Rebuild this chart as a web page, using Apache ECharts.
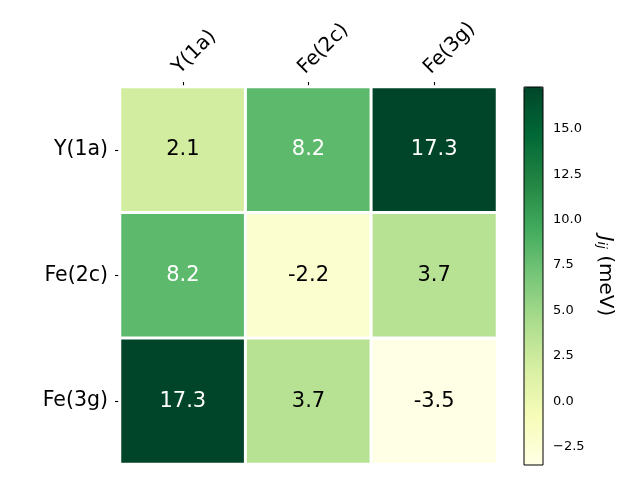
<!DOCTYPE html>
<html>
<head>
<meta charset="utf-8">
<script src="https://cdn.jsdelivr.net/npm/echarts@6/dist/echarts.min.js"></script>
<style>html,body{margin:0;padding:0;background:#fff}#c{width:640px;height:480px}</style>
</head>
<body>
<div id="c"></div>
<script>
const sites = ['Y(1a)', 'Fe(2c)', 'Fe(3g)'];
const rowY1a = [2.1, 8.2, 17.3];
const rowFe2c = [8.2, -2.2, 3.7];
const rowFe3g = [17.3, 3.7, -3.5];
const valueMin = -3.5;
const valueMax = 17.3;
const cbTicks = [-2.5, 0, 2.5, 5, 7.5, 10, 12.5, 15];
const ylgn = ['#ffffe5','#f7fcb9','#d9f0a3','#addd8e','#78c679','#41ab5d','#238443','#006837','#004529'];

const rows = [rowY1a, rowFe2c, rowFe3g];
const data = [];
rows.forEach((row, yi) => row.forEach((v, xi) => {
  data.push({value: [xi, yi, v], label: {color: v > 7 ? '#ffffff' : '#000000'}});
}));

const FONT = 'DejaVu Sans';
const tickStyle = {color: '#000', width: 1.1};
const chart = echarts.init(document.getElementById('c'), null, {renderer: 'canvas'});
chart.setOption({
  animation: false,
  backgroundColor: '#ffffff',
  textStyle: {fontFamily: FONT},
  grid: [
    {left: 120, top: 87, width: 377, height: 377},
    {left: 524, top: 87, width: 19, height: 378, show: true, borderColor: '#000', borderWidth: 1, backgroundColor: 'transparent', z: 10}
  ],
  xAxis: [
    {type: 'category', gridIndex: 0, data: sites, position: 'top',
     axisLine: {show: false}, splitLine: {show: false},
     axisTick: {show: true, alignWithLabel: true, length: 5, lineStyle: tickStyle},
     axisLabel: {rotate: -45, fontSize: 20, color: '#000', fontFamily: FONT, margin: 9, verticalAlign: 'bottom'}},
    {type: 'value', gridIndex: 1, show: false, min: 0, max: 1}
  ],
  yAxis: [
    {type: 'category', gridIndex: 0, data: sites, inverse: true,
     axisLine: {show: false}, splitLine: {show: false},
     axisTick: {show: true, alignWithLabel: true, length: 5, lineStyle: tickStyle},
     axisLabel: {fontSize: 20.5, color: '#000', fontFamily: FONT, margin: 12}},
    {type: 'value', gridIndex: 1, position: 'right', min: valueMin, max: valueMax,
     axisLine: {show: false}, splitLine: {show: false},
     axisTick: {show: true, length: 5, customValues: cbTicks, lineStyle: tickStyle},
     axisLabel: {show: true, customValues: cbTicks, fontSize: 13, color: '#000', fontFamily: FONT, margin: 10,
       formatter: v => (v < 0 ? '\u2212' : '') + Math.abs(v).toFixed(1)},
     name: '{j|J}{s|ij}{n| (meV)}', nameLocation: 'middle', nameRotate: -90, nameGap: 52,
     nameTextStyle: {rich: {
       j: {fontSize: 20, fontStyle: 'italic', fontFamily: FONT, color: '#000'},
       s: {fontSize: 13, fontStyle: 'italic', fontFamily: FONT, color: '#000', verticalAlign: 'bottom', padding: [8, 0, 0, 0]},
       n: {fontSize: 20, fontFamily: FONT, color: '#000'}
     }}}
  ],
  visualMap: {
    type: 'continuous', min: valueMin, max: valueMax, seriesIndex: 0,
    inRange: {color: ylgn}, left: 524, top: 87, itemWidth: 19, itemHeight: 378,
    padding: 0, calculable: false, text: null, showLabel: false, hoverLink: false,
    orient: 'vertical'
  },
  series: [{
    type: 'heatmap', xAxisIndex: 0, yAxisIndex: 0, data: data,
    itemStyle: {borderColor: '#ffffff', borderWidth: 3},
    label: {show: true, fontSize: 21, fontFamily: FONT, formatter: p => p.value[2].toFixed(1)},
    emphasis: {disabled: true}
  }]
});
</script>
</body>
</html>
